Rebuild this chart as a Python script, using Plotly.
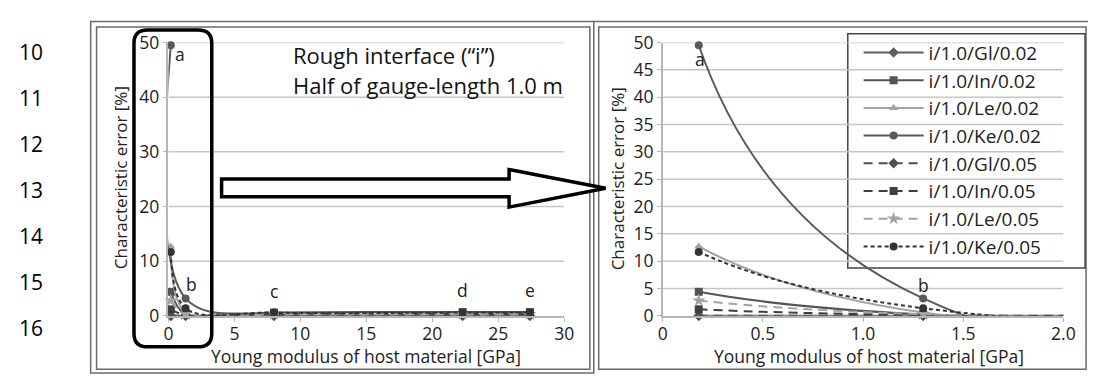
import plotly.graph_objects as go

W, H = 1101, 385

# Young modulus of host material [GPa] at each computed point
modulus = [0.18, 1.3, 8.0, 22.3, 27.4]
point_tags = ["a", "b", "c", "d", "e"]

# Characteristic error [%] per configuration
gl_002 = [0.0, 0.0, 0.0, 0.0, 0.0]
in_002 = [4.4, 0.25, 0.6, 0.7, 0.7]
le_002 = [12.7, 0.6, 0.2, 0.1, 0.1]
ke_002 = [49.5, 3.2, 0.3, 0.2, 0.2]
gl_005 = [0.0, 0.0, 0.0, 0.0, 0.0]
in_005 = [1.2, 0.15, 0.4, 0.4, 0.4]
le_005 = [2.8, 0.3, 0.3, 0.3, 0.3]
ke_005 = [11.7, 1.4, 0.6, 0.6, 0.6]

series_names = ["i/1.0/Gl/0.02", "i/1.0/In/0.02", "i/1.0/Le/0.02", "i/1.0/Ke/0.02",
                "i/1.0/Gl/0.05", "i/1.0/In/0.05", "i/1.0/Le/0.05", "i/1.0/Ke/0.05"]
series_values = [gl_002, in_002, le_002, ke_002, gl_005, in_005, le_005, ke_005]
series_colors = ["#5f5f5f", "#545454", "#a3a3a3", "#5a5a5a",
                 "#4f4f4f", "#3f3f3f", "#a3a3a3", "#333333"]
series_symbols = ["diamond", "square", "triangle-up", "circle",
                  "diamond", "square", "star", "circle"]
series_dash = ["solid", "solid", "solid", "solid",
               "9px,6px", "9px,6px", "9px,6px", "4px,3px"]

left_y_ticks = [0, 10, 20, 30, 40, 50]
left_x_ticks = [0, 5, 10, 15, 20, 25, 30]
right_y_ticks = [0, 5, 10, 15, 20, 25, 30, 35, 40, 45, 50]
right_x_ticks = [0, 0.5, 1.0, 1.5, 2.0]
right_x_labels = ["0", "0.5", "1.0", "1.5", "2.0"]

line_numbers = ["10", "11", "12", "13", "14", "15", "16"]

title_lines = ["Rough interface (“i”)", "Half of gauge-length 1.0 m"]
x_title = "Young modulus of host material [GPa]"
y_title = "Characteristic error [%]"

FONT = "Open Sans"
TXT = "#222222"
GRID = "#c6c6c6"


def px(x):
    return x / W


def py(y):
    return 1 - y / H


fig = go.Figure()

# full-range panel (left) and zoomed panel (right) share the same series
for name, vals, col, sym, dash in zip(series_names, series_values, series_colors,
                                      series_symbols, series_dash):
    for ax, show, smooth in (("", False, 1.0), ("2", True, 1.3)):
        fig.add_trace(go.Scatter(
            x=modulus, y=vals, name=name, legendgroup=name, showlegend=show,
            mode="lines+markers", xaxis="x" + ax, yaxis="y" + ax,
            line=dict(color=col, width=2, dash=dash, shape="spline", smoothing=smooth),
            marker=dict(symbol=sym, size=8 if sym != "star" else 10, color=col),
            cliponaxis=False,
        ))

tick_font = dict(family=FONT, size=17.5, color=TXT)
x_common = dict(showgrid=False, zeroline=False, showline=True, linecolor="#b5b5b5",
                linewidth=1.5, ticks="outside", tickcolor="#b5b5b5", ticklen=4,
                tickfont=tick_font, ticklabelstandoff=-3)
y_common = dict(x_common, ticklabelstandoff=0)

fig.update_layout(
    width=W, height=H, margin=dict(l=0, r=0, t=0, b=0),
    paper_bgcolor="white", plot_bgcolor="white",
    font=dict(family=FONT, color=TXT),
    xaxis=dict(domain=[px(166), px(568)], range=[0, 30], anchor="y",
               tickvals=left_x_ticks, **x_common),
    yaxis=dict(domain=[py(323), py(31.5)], range=[0, 50], anchor="x",
               tickvals=left_y_ticks, **y_common),
    xaxis2=dict(domain=[px(668), px(1075)], range=[0, 2.0], anchor="y2",
                tickvals=right_x_ticks, ticktext=right_x_labels, **x_common),
    yaxis2=dict(domain=[py(323), py(31.5)], range=[0, 50], anchor="x2",
                tickvals=right_y_ticks, **y_common),
    showlegend=True,
    legend=dict(x=px(867), y=py(22), xanchor="left", yanchor="top",
                bgcolor="rgba(0,0,0,0)", borderwidth=0,
                font=dict(family=FONT, size=19, color=TXT),
                itemwidth=60, traceorder="normal"),
)

# horizontal grid lines, drawn under the traces
for v in left_y_ticks[1:]:
    fig.add_shape(type="line", xref="x", yref="y", x0=0, x1=30, y0=v, y1=v,
                  line=dict(color=GRID, width=1.5), layer="below")
for v in right_y_ticks[1:]:
    fig.add_shape(type="line", xref="x2", yref="y2", x0=0, x1=2.0, y0=v, y1=v,
                  line=dict(color=GRID, width=1.5), layer="below")

# point tags on the highest curve at each modulus
tops = [max(v[i] for v in series_values) for i in range(len(modulus))]
left_shift = [(9, -9), (6, 14), (0, 22), (0, 22), (0, 22)]
for tag, xv, yv, (dx, dy) in zip(point_tags, modulus, tops, left_shift):
    fig.add_annotation(x=xv, y=yv, xref="x", yref="y", text=tag, showarrow=False,
                       xshift=dx, yshift=dy, font=dict(size=17.5, color=TXT))
right_shift = [(1, -14), (0, 13)]
for tag, xv, yv, (dx, dy) in zip(point_tags[:2], modulus[:2], tops[:2], right_shift):
    fig.add_annotation(x=xv, y=yv, xref="x2", yref="y2", text=tag, showarrow=False,
                       xshift=dx, yshift=dy, font=dict(size=17.5, color=TXT))

# text block in the left panel
for i, line in enumerate(title_lines):
    fig.add_annotation(x=px(290), y=py(45 + 32 * i), xref="paper", yref="paper",
                       text=line, showarrow=False, xanchor="left", yanchor="middle",
                       font=dict(size=22, color="#111111"))

# axis titles
for cx, cy in ((367, 366), (878, 366)):
    fig.add_annotation(x=px(cx), y=py(cy), xref="paper", yref="paper", text=x_title,
                       showarrow=False, xanchor="center", yanchor="middle",
                       font=dict(size=17.5, color=TXT))
for cx, cy in ((117, 176), (623, 177)):
    fig.add_annotation(x=px(cx), y=py(cy), xref="paper", yref="paper", text=y_title,
                       showarrow=False, textangle=-90, xanchor="center", yanchor="middle",
                       font=dict(size=17, color=TXT))

# manuscript line numbers
for i, num in enumerate(line_numbers):
    fig.add_annotation(x=px(26), y=py(42 + 49 * i), xref="paper", yref="paper",
                       text=num, showarrow=False, xanchor="center", yanchor="middle",
                       font=dict(size=21, color="#000000"))

frame = dict(color="#6a6a6a", width=1.5)


def rect(x0, y0, x1, y1, line, layer="below", fill=None):
    fig.add_shape(type="rect", xref="paper", yref="paper",
                  x0=px(x0), y0=py(y0), x1=px(x1), y1=py(y1), line=line, layer=layer,
                  fillcolor=fill)


rect(87, 9, 598, 384, frame)
rect(93, 15, 594, 380, frame)
rect(603, 15, 1098, 380, frame)
fig.add_shape(type="line", xref="paper", yref="paper", x0=px(598), y0=py(9),
              x1=px(1100), y1=py(9), line=frame, layer="below")

# legend frame: opaque over the grid, under the curves
rect(856, 22, 1097, 272, dict(color="#444444", width=1.5), layer="below", fill="white")

# rounded highlight box around the low-modulus region
bx0, by0, bx1, by1, r = 131, 18, 210, 356, 14


def pt(x, y):
    return f"{px(x):.5f},{py(y):.5f}"


path = (f"M {pt(bx0 + r, by0)} L {pt(bx1 - r, by0)} Q {pt(bx1, by0)} {pt(bx1, by0 + r)} "
        f"L {pt(bx1, by1 - r)} Q {pt(bx1, by1)} {pt(bx1 - r, by1)} "
        f"L {pt(bx0 + r, by1)} Q {pt(bx0, by1)} {pt(bx0, by1 - r)} "
        f"L {pt(bx0, by0 + r)} Q {pt(bx0, by0)} {pt(bx0 + r, by0)} Z")
fig.add_shape(type="path", xref="paper", yref="paper", path=path,
              line=dict(color="#000000", width=3.5))

# hollow block arrow pointing to the zoomed panel
arrow = [(220, 177), (512, 177), (512, 167), (610, 187), (512, 207), (512, 196), (220, 196)]
apath = "M " + " L ".join(pt(x, y) for x, y in arrow) + " Z"
fig.add_shape(type="path", xref="paper", yref="paper", path=apath,
              fillcolor="white", line=dict(color="#000000", width=3.5))

fig.write_html("out.html")
